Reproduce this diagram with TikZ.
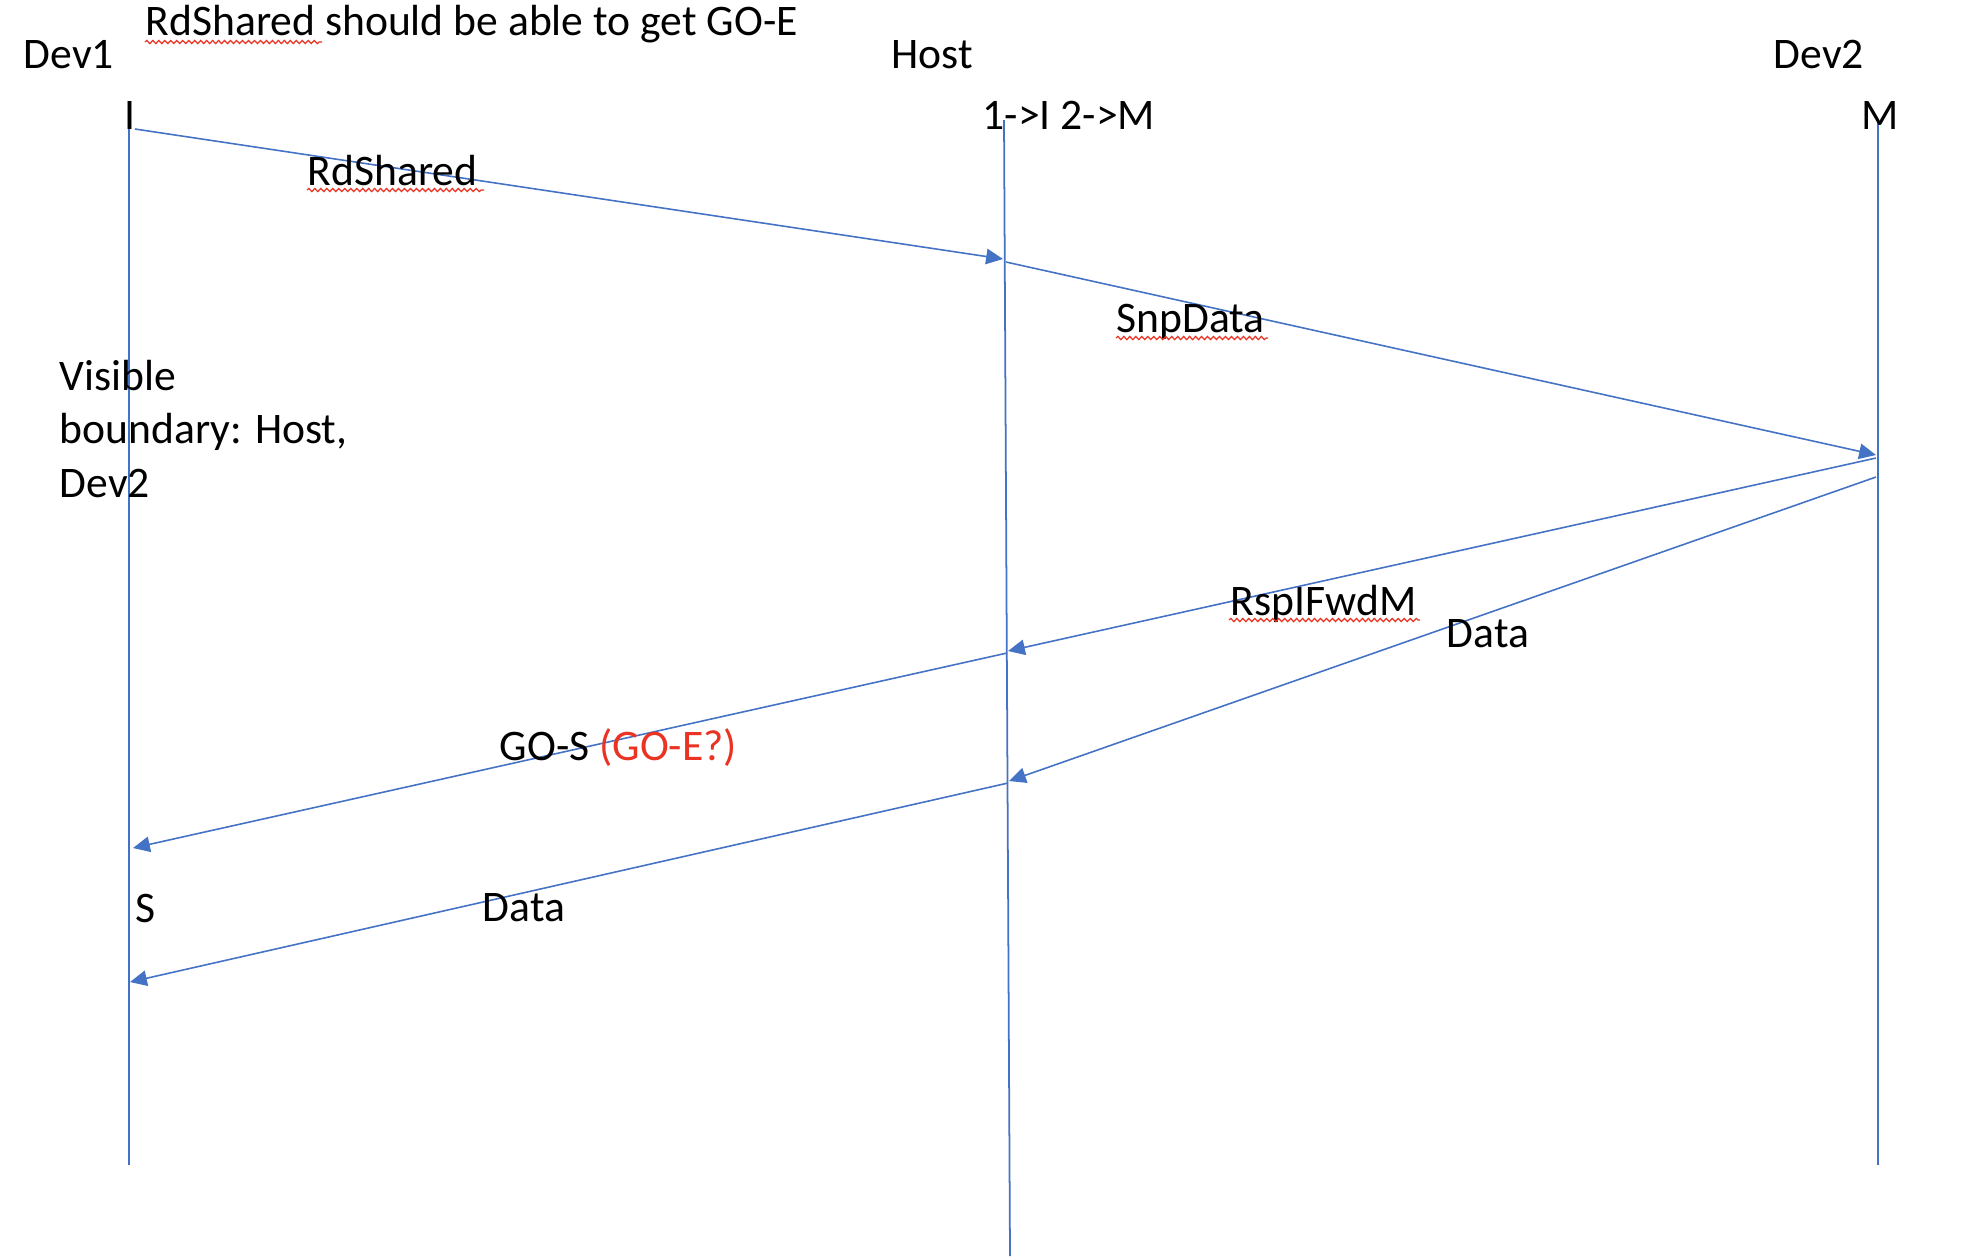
\documentclass[tikz,border=0pt]{standalone}
\usepackage{fontspec}
\setmainfont{Carlito}
\usetikzlibrary{arrows.meta,decorations.pathmorphing}
\definecolor{lineBlue}{RGB}{68,114,196}
\definecolor{noteRed}{RGB}{234,51,35}
\tikzset{
  lifeline/.style={lineBlue,line width=0.5pt},
  msg/.style={lineBlue,line width=0.45pt,-{Triangle[length=4.8pt,width=4.4pt]}},
  lbl/.style={inner sep=0pt,anchor=base west,font=\fontsize{12.4}{15.1}\selectfont},
  squig/.style={noteRed,line width=0.35pt,decorate,decoration={snake,amplitude=0.45pt,segment length=1.7pt}},
}

\begin{document}
\begin{tikzpicture}[x=0.01cm,y=-0.01cm]
\useasboundingbox (0,0) rectangle (1982,1256);
%% one unit = one pixel of the sketch; y runs down the page
% ---- lifelines: Dev1, Host, Dev2
\foreach \name/\xa/\ya/\xb/\yb in {dA/129/111/129/1165,hA/1004/120/1010/1256,dB/1878/120/1878/1165}{
  \coordinate (\name top) at (\xa,\ya);
  \coordinate (\name bot) at (\xb,\yb);
  \draw[lifeline] (\name top) -- (\name bot);}
% ---- headers and states
\node[lbl] (note) at (145,35) {RdShared should be able to get GO-E};
\node[lbl] (dev1) at (23,68) {Dev1};
\node[lbl] (host) at (891,68) {Host};
\node[lbl] (dev2) at (1773,68) {Dev2};
\node[lbl] (stI) at (124,129) {I};
\node[lbl] (stH) at (982,129) {1->I 2->M};
\node[lbl] (stM) at (1861,129) {M};
\node[lbl] (stS) at (135,922) {S};
% base of a multi-line node sits on its last line
\node[lbl,align=left] (vis) at (59,497) {Visible\\boundary: Host,\\Dev2};
% ---- message end points on the lifelines
\coordinate (d1a) at (135,129);
\coordinate (h1) at (1003,259);
\coordinate (h2) at (1006,262);
\coordinate (d2a) at (1876,455);
\coordinate (d2b) at (1876,458);
\coordinate (h3) at (1008,651);
\coordinate (d2c) at (1876,477);
\coordinate (h4) at (1009,781);
\coordinate (h5) at (1007,653);
\coordinate (d1b) at (133,848);
\coordinate (h6) at (1008,783);
\coordinate (d1c) at (130,982);
% ---- messages
\draw[msg] (d1a) -- (h1);
\draw[msg] (h2) -- (d2a);
\draw[msg] (d2b) -- (h3);
\draw[msg] (d2c) -- (h4);
\draw[msg] (h5) -- (d1b);
\draw[msg] (h6) -- (d1c);
% ---- message labels
\node[lbl] (mRd) at (307,185) {RdShared};
\node[lbl] (mSnp) at (1116,332) {SnpData};
\node[lbl] (mRsp) at (1230,615) {RspIFwdM};
\node[lbl] (mDatR) at (1446,647) {Data};
\node[lbl] (mGO) at (499,760) {GO-S \textcolor{noteRed}{(GO-E?)}};
\node[lbl] (mDatL) at (482,921) {Data};
% spell-check squiggles as in the sketch
\draw[squig] (145,42) -- (322,42);
\draw[squig] (307,190) -- (484,190);
\draw[squig] (1116,338) -- (1268,338);
\draw[squig] (1229,620) -- (1420,620);
\end{tikzpicture}
\end{document}
